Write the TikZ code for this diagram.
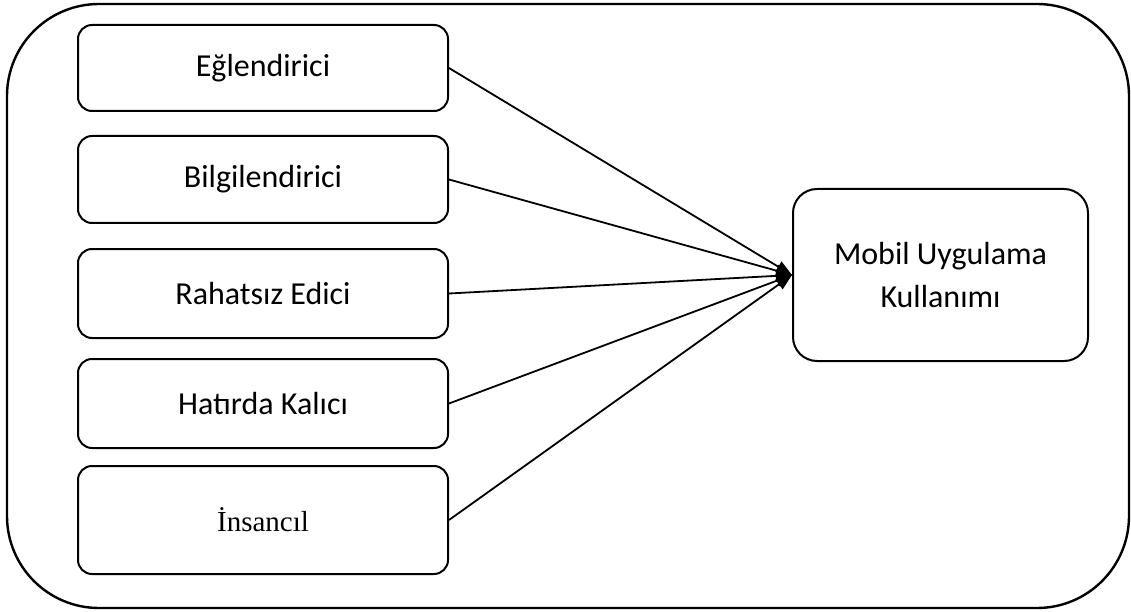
\documentclass[tikz,border=0pt]{standalone}
\usepackage{fontspec}
\setmainfont{Carlito}
\newfontfamily\serifface{Liberation Serif}
\usetikzlibrary{arrows.meta}
\begin{document}
\begin{tikzpicture}[x=1pt,y=-1pt,
  factor/.style={draw, line width=2pt, rounded corners=14pt, minimum width=370pt,
    inner sep=0pt, font=\fontsize{32}{38}\selectfont, anchor=north west},
  link/.style={line width=1.8pt, -{Triangle[length=16pt,width=12pt]}}]
\useasboundingbox (0,0) rectangle (1131,612);
% outer frame
\draw[line width=2.4pt, rounded corners=92pt] (7,4) rectangle (1129,608);
% factor boxes
\node[factor, minimum height=86pt] (f1) at (77,24) {Eğlendirici};
\node[factor, minimum height=87pt] (f2) at (77,135) {Bilgilendirici};
\node[factor, minimum height=89pt] (f3) at (77,248) {Rahatsız Edici};
\node[factor, minimum height=89pt] (f4) at (77,358) {Hatırda Kalıcı};
\node[factor, minimum height=108pt, font=\serifface\fontsize{29}{34}\selectfont] (f5) at (77,465) {İnsancıl};
% outcome box
\node[draw, line width=2pt, rounded corners=24pt, minimum width=295pt, minimum height=172pt,
  inner sep=0pt, align=center, font=\fontsize{32}{43}\selectfont, anchor=north west]
  (out) at (792,188) {Mobil Uygulama\\Kullanımı};
% connectors
\foreach \f in {f1,f2,f3,f4,f5}
  \draw[link] (\f.east) -- (out.west);
\end{tikzpicture}
\end{document}
